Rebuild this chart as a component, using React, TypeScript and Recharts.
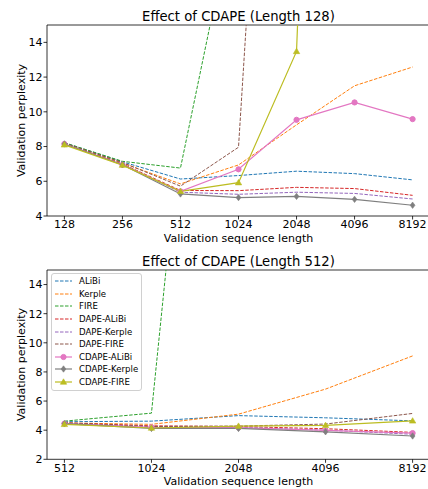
import { LineChart, Line, XAxis, YAxis, ReferenceLine, Legend } from 'recharts';

const topLengths = ['128', '256', '512', '1024', '2048', '4096', '8192'];
const bottomLengths = ['512', '1024', '2048', '4096', '8192'];

const seriesNames = ['ALiBi', 'Kerple', 'FIRE', 'DAPE-ALiBi', 'DAPE-Kerple', 'DAPE-FIRE', 'CDAPE-ALiBi', 'CDAPE-Kerple', 'CDAPE-FIRE'];
const seriesColors = ['#1f77b4', '#ff7f0e', '#2ca02c', '#d62728', '#9467bd', '#8c564b', '#e377c2', '#7f7f7f', '#bcbd22'];
const seriesMarkers = ['none', 'none', 'none', 'none', 'none', 'none', 'circle', 'diamond', 'triangle'];

const topTicks = [4, 6, 8, 10, 12, 14];
const bottomTicks = [2, 4, 6, 8, 10, 12, 14];

// trained on length 128
const alibi128 = [8.22, 7.12, 6.13, 6.33, 6.58, 6.44, 6.08];
const kerple128 = [8.2, 7.05, 5.85, 6.94, 9.25, 11.5, 12.58];
const fire128 = [8.22, 7.15, 6.76, 22.9, 60, 120, 240];
const dapeAlibi128 = [8.15, 7.0, 5.47, 5.46, 5.65, 5.58, 5.19];
const dapeKerple128 = [8.15, 6.98, 5.37, 5.25, 5.37, 5.3, 4.98];
const dapeFire128 = [8.2, 7.08, 5.72, 7.96, 61, 120, 240];
const cdapeAlibi128 = [8.15, 6.95, 5.42, 6.69, 9.54, 10.54, 9.58];
const cdapeKerple128 = [8.15, 6.95, 5.27, 5.06, 5.13, 4.96, 4.62];
const cdapeFire128 = [8.1, 6.93, 5.42, 5.92, 13.48, 100, 200];

// trained on length 512
const alibi512 = [4.58, 4.62, 5.0, 4.85, 4.64];
const kerple512 = [4.5, 4.4, 5.1, 6.82, 9.1];
const fire512 = [4.62, 5.17, 64, 150, 300];
const dapeAlibi512 = [4.5, 4.3, 4.25, 4.1, 3.85];
const dapeKerple512 = [4.45, 4.25, 4.2, 4.0, 3.72];
const dapeFire512 = [4.5, 4.25, 4.28, 4.42, 5.15];
const cdapeAlibi512 = [4.45, 4.2, 4.18, 3.98, 3.8];
const cdapeKerple512 = [4.45, 4.12, 4.12, 3.89, 3.6];
const cdapeFire512 = [4.4, 4.15, 4.28, 4.33, 4.64];

const topSeries = [alibi128, kerple128, fire128, dapeAlibi128, dapeKerple128, dapeFire128, cdapeAlibi128, cdapeKerple128, cdapeFire128];
const bottomSeries = [alibi512, kerple512, fire512, dapeAlibi512, dapeKerple512, dapeFire512, cdapeAlibi512, cdapeKerple512, cdapeFire512];

const topData = topLengths.map((len, i) => {
  const row: Record<string, string | number> = { len };
  seriesNames.forEach((name, s) => { row[name] = topSeries[s][i]; });
  return row;
});

const bottomData = bottomLengths.map((len, i) => {
  const row: Record<string, string | number> = { len };
  seriesNames.forEach((name, s) => { row[name] = bottomSeries[s][i]; });
  return row;
});

const FONT = '"DejaVu Sans", sans-serif';

function Marker({ kind, color, x, y }: { kind: string; color: string; x: number; y: number }) {
  if (kind === 'circle') return <circle cx={x} cy={y} r={2.6} fill={color} stroke={color} />;
  if (kind === 'diamond') {
    const r = 3.2;
    return <polygon points={`${x},${y - r} ${x + r * 0.75},${y} ${x},${y + r} ${x - r * 0.75},${y}`} fill={color} stroke={color} strokeWidth={0.6} />;
  }
  if (kind === 'triangle') {
    const r = 3.2;
    return <polygon points={`${x},${y - r} ${x + r},${y + r * 0.7} ${x - r},${y + r * 0.7}`} fill={color} stroke={color} strokeWidth={0.6} />;
  }
  return null;
}

function makeDot(kind: string, color: string, yMax: number) {
  if (kind === 'none') return false;
  return (props: any) => {
    const { cx, cy, value, index } = props;
    if (cx == null || cy == null || value > yMax) return <g key={index} />;
    return <g key={index}><Marker kind={kind} color={color} x={cx} y={cy} /></g>;
  };
}

function renderLines(yMax: number) {
  return seriesNames.map((name, s) => {
    const marker = seriesMarkers[s];
    const solid = marker !== 'none';
    return (
      <Line
        key={name}
        type="linear"
        dataKey={name}
        stroke={seriesColors[s]}
        strokeWidth={solid ? 1.2 : 1}
        strokeDasharray={solid ? undefined : '3.5 1.5'}
        dot={makeDot(marker, seriesColors[s], yMax)}
        activeDot={false}
        isAnimationActive={false}
      />
    );
  });
}

function LegendBox() {
  return (
    <div
      style={{
        boxSizing: 'border-box',
        border: '1px solid #d0d0d0',
        borderRadius: 3,
        background: 'rgba(255,255,255,0.85)',
        padding: '1px 2px 2px 3px',
        fontFamily: FONT,
        fontSize: 8.6,
        color: '#000',
        width: 91,
        whiteSpace: 'nowrap',
      }}
    >
      {seriesNames.map((name, s) => {
        const solid = seriesMarkers[s] !== 'none';
        return (
          <div key={name} style={{ display: 'flex', alignItems: 'center', height: 12.6 }}>
            <svg width={17} height={8} style={{ marginRight: 7, flexShrink: 0 }}>
              <line
                x1={0}
                y1={4}
                x2={17}
                y2={4}
                stroke={seriesColors[s]}
                strokeWidth={solid ? 1.2 : 1}
                strokeDasharray={solid ? undefined : '3.5 1.5'}
              />
              <Marker kind={seriesMarkers[s]} color={seriesColors[s]} x={8.5} y={4} />
            </svg>
            <span>{name}</span>
          </div>
        );
      })}
    </div>
  );
}

const axisProps = {
  axisLine: { stroke: '#000', strokeWidth: 0.8 },
  tickLine: { stroke: '#000', strokeWidth: 0.8 },
  tickSize: 3.5,
  tick: { fill: '#000', fontSize: 11 },
};

function Title({ text, top }: { text: string; top: number }) {
  return (
    <div style={{ position: 'absolute', left: 47, width: 383, top, textAlign: 'center', fontSize: 13.2, lineHeight: '14px' }}>
      {text}
    </div>
  );
}

function XLabel({ top }: { top: number }) {
  return (
    <div style={{ position: 'absolute', left: 47, width: 383, top, textAlign: 'center', fontSize: 11, lineHeight: '13px' }}>
      Validation sequence length
    </div>
  );
}

function YLabel({ center }: { center: number }) {
  return (
    <div
      style={{
        position: 'absolute',
        left: 20.7 - 100,
        top: center - 6.5,
        width: 200,
        height: 13,
        lineHeight: '13px',
        textAlign: 'center',
        fontSize: 11,
        transform: 'rotate(-90deg)',
      }}
    >
      Validation perplexity
    </div>
  );
}

export default function App() {
  return (
    <div style={{ position: 'absolute', left: 0, top: 0, width: 428, height: 489, overflow: 'hidden', background: '#fff', fontFamily: FONT, color: '#000' }}>
      <Title text="Effect of CDAPE (Length 128)" top={10} />
      <div style={{ position: 'absolute', left: 0, top: 0 }}>
        <LineChart width={432} height={245} data={topData} margin={{ top: 25, right: 2, left: 0, bottom: 0 }}>
          <XAxis dataKey="len" interval={0} height={29} padding={{ left: 17.4, right: 17.4 }} tickMargin={1} {...axisProps} />
          <YAxis domain={[4, 15]} ticks={topTicks} allowDataOverflow width={47} tickMargin={1} {...axisProps} />
          <ReferenceLine y={15} stroke="#000" strokeWidth={0.8} />
          {renderLines(15)}
        </LineChart>
      </div>
      <XLabel top={231.5} />
      <YLabel center={120.5} />

      <Title text="Effect of CDAPE (Length 512)" top={254.7} />
      <div style={{ position: 'absolute', left: 0, top: 245 }}>
        <LineChart width={432} height={244} data={bottomData} margin={{ top: 25, right: 2, left: 0, bottom: 0 }}>
          <XAxis dataKey="len" interval={0} height={29.7} padding={{ left: 17.4, right: 17.4 }} tickMargin={1} {...axisProps} />
          <YAxis domain={[2, 15]} ticks={bottomTicks} allowDataOverflow width={47} tickMargin={1} {...axisProps} />
          <ReferenceLine y={15} stroke="#000" strokeWidth={0.8} />
          {renderLines(15)}
          <Legend
            layout="vertical"
            align="center"
            verticalAlign="middle"
            content={() => <LegendBox />}
            wrapperStyle={{ position: 'absolute', left: 51, top: 28, width: 'auto' }}
          />
        </LineChart>
      </div>
      <XLabel top={475.2} />
      <YLabel center={364.7} />
    </div>
  );
}
